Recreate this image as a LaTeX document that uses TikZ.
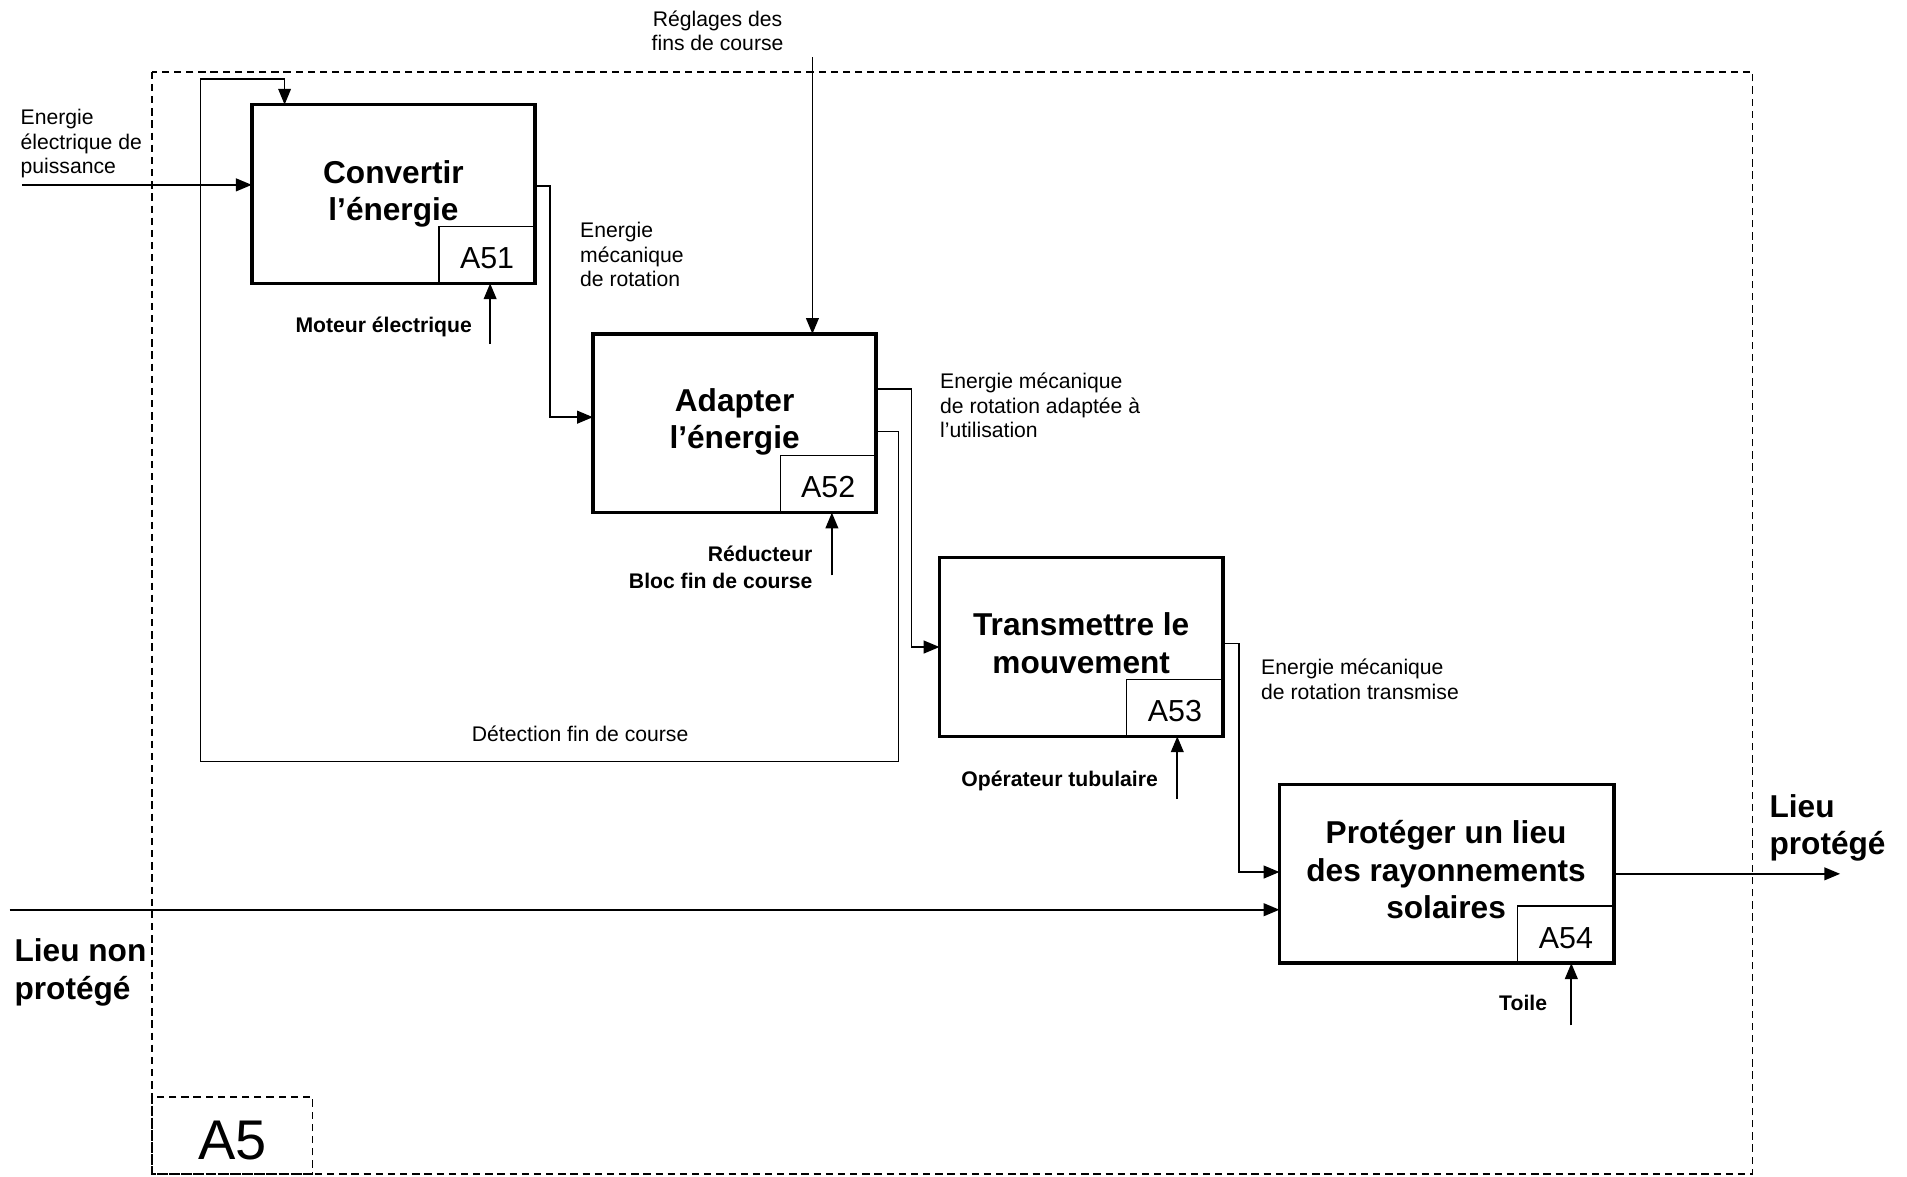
\documentclass[tikz,border=0pt]{standalone}
\usepackage{fontspec}
\setmainfont{Liberation Sans}
\usetikzlibrary{arrows.meta,calc}

\begin{document}
\begin{tikzpicture}
	[x=1pt,y=-1pt,every node/.style={inner sep=0pt,outer sep=0pt,font=\fontsize{17.4}{20}\selectfont}]
	\tikzstyle{bloc} = [draw,line width=3pt,minimum width=233pt,minimum height=147pt];
	\tikzstyle{titre} = [align=center,font=\fontsize{26}{31}\selectfont\bfseries];
	\tikzstyle{numero} = [draw,line width=1pt,anchor=south east,minimum width=79pt,minimum height=47pt,text height=22pt,text depth=0pt,font=\fontsize{25}{30}\selectfont];
	\tikzstyle{flux} = [line width=1.4pt,-{Triangle[length=13pt,width=10.5pt]}];
	\tikzstyle{retour} = [line width=1pt,-{Triangle[length=13pt,width=10.5pt]}];
	\tikzstyle{cadre} = [line width=1.5pt,dash pattern=on 6pt off 4pt];
	\tikzstyle{gras} = [font=\fontsize{17.4}{22}\selectfont\bfseries];
	\tikzstyle{grand} = [font=\fontsize{26}{31}\selectfont\bfseries];

	\useasboundingbox (0,0) rectangle (1568,967);

	% cadre A5
	\draw[cadre] (125,59) rectangle (1441,965);
	\draw[cadre] (125,902) rectangle (257,965);
	\node[font=\fontsize{46}{50}\selectfont] (a5) at (191,938) {A5};

	% blocs
	\node[bloc] (a51) at (323.5,159.5) {};
	\node[bloc] (a52) at (604,348) {};
	\node[bloc] (a53) at (889,532) {};
	\node[bloc,minimum width=275pt] (a54) at (1189.5,718.5) {};

	\node[titre] (t51) at (323.5,159.5) {Convertir\\l’énergie};
	\node[titre] (t52) at (604,347) {Adapter\\l’énergie};
	\node[titre] (t53) at (889,529) {Transmettre le\\mouvement};
	\node[titre] (t54) at (1189,715) {Protéger un lieu\\des rayonnements\\solaires};

	\node[numero] (n51) at (a51.south east) {A51};
	\node[numero] (n52) at (a52.south east) {A52};
	\node[numero] (n53) at (a53.south east) {A53};
	\node[numero] (n54) at (a54.south east) {A54};

	% entrees et sorties
	\coordinate (e51) at (18,152);
	\coordinate (e54) at (8,748);
	\coordinate (s54) at (1513,718.5);
	\draw[flux] (e51) -- (e51 -| a51.west);
	\draw[flux] (e54) -- (e54 -| a54.west);
	\draw[flux] (a54.east) -- (s54);

	\draw[flux] ([yshift=6.5pt]a51.east) -- ++(12,0) |- ([yshift=5pt]a52.west);
	\draw[flux] ([yshift=28pt]a52.east) -- ++(29,0) |- (a53.west);
	\draw[flux] ([yshift=3pt]a53.east) -- ++(13,0) |- ([yshift=1.5pt]a54.west);

	% retour fin de course
	\coordinate (r1) at (739,626);
	\coordinate (r2) at (165,65);
	\draw[retour] ([yshift=-7pt]a52.east) -| (r1) -| (r2) -| ([xshift=-89.5pt]a51.north);

	% controle
	\coordinate (c52) at (668,47);
	\draw[flux] (c52) -- (c52 |- a52.north);

	% supports
	\coordinate (m51) at (403,283);
	\coordinate (m52) at (684,473);
	\coordinate (m53) at (968,657);
	\coordinate (m54) at (1292,843);
	\draw[flux] (m51) -- (m51 |- a51.south);
	\draw[flux] (m52) -- (m52 |- a52.south);
	\draw[flux] (m53) -- (m53 |- a53.south);
	\draw[flux] (m54) -- (m54 |- a54.south);

	% textes
	\node[anchor=north west,align=left] (l1) at (17,90) {Energie\\électrique de\\puissance};
	\node[anchor=north,align=center] (l2) at (590,9) {Réglages des\\fins de course};
	\node[anchor=north west,align=left] (l3) at (477,183) {Energie\\mécanique\\de rotation};
	\node[anchor=north west,align=left] (l4) at (773,307) {Energie mécanique\\de rotation adaptée à\\l’utilisation};
	\node[anchor=north west,align=left] (l5) at (1037,542) {Energie mécanique\\de rotation transmise};
	\node (l6) at (477,603) {Détection fin de course};
	\node[gras,anchor=east] (l7) at (388,269) {Moteur électrique};
	\node[gras,anchor=north east,align=right] (l8) at (668,449) {Réducteur\\Bloc fin de course};
	\node[gras,anchor=east] (l9) at (952,642) {Opérateur tubulaire};
	\node[gras,anchor=east] (l10) at (1272,825) {Toile};
	\node[grand,anchor=north west,align=left] (l11) at (1455,653) {Lieu\\protégé};
	\node[grand,anchor=north west,align=left] (l12) at (12,772) {Lieu non\\protégé};
\end{tikzpicture}
\end{document}
